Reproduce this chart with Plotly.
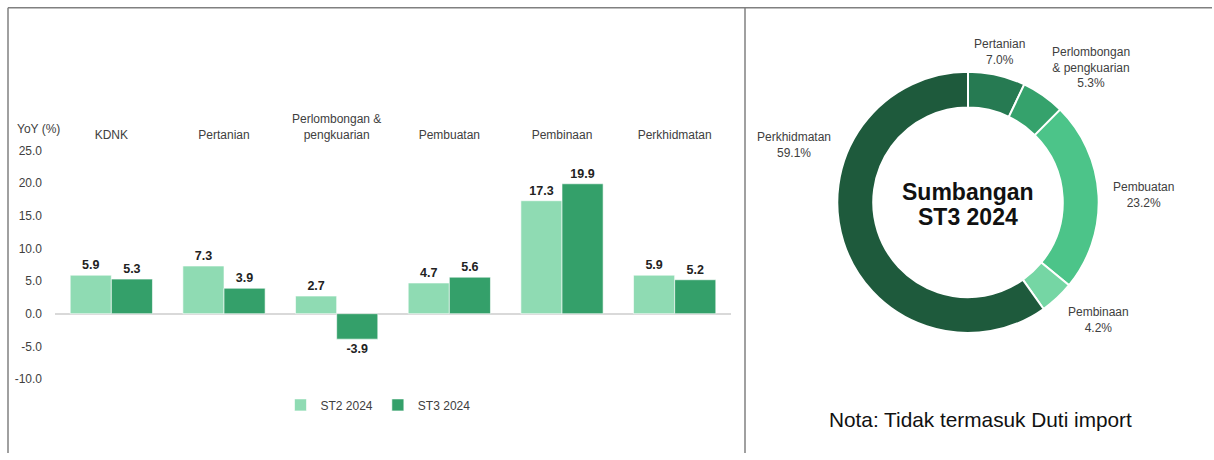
import math
import plotly.graph_objects as go

# ---------------- data ----------------
categories = ["KDNK", "Pertanian", "Perlombongan &<br>pengkuarian", "Pembuatan", "Pembinaan", "Perkhidmatan"]
st2_2024 = [5.9, 7.3, 2.7, 4.7, 17.3, 5.9]
st3_2024 = [5.3, 3.9, -3.9, 5.6, 19.9, 5.2]
series_names = ["ST2 2024", "ST3 2024"]

pie_labels = ["Pertanian", "Perlombongan & pengkuarian", "Pembuatan", "Pembinaan", "Perkhidmatan"]
pie_label_text = ["Pertanian", "Perlombongan<br>& pengkuarian", "Pembuatan", "Pembinaan", "Perkhidmatan"]
pie_values = [7.0, 5.3, 23.2, 4.2, 59.1]

y_ticks = [-10, -5, 0, 5, 10, 15, 20, 25]

# ---------------- styles / geometry helpers ----------------
FONT = "Liberation Sans, Arial, sans-serif"
C_ST2 = "#8fdbb3"
C_ST3 = "#34a06a"
PIE_COLORS = ["#267a52", "#35a26c", "#4cc489", "#75d6a4", "#1e5a3c"]
# label placement style: the large slice's label sits in its upper-left part (degrees clockwise from 12 o'clock)
LABEL_ANGLE_OVERRIDE = {"Perkhidmatan": 289}
W, H = 1214, 460
# effective drawing area as rendered (height / top offset), used to convert pixel targets to paper fractions
HE, OFF = 447.0, 6.2


def PX(x):
    return x / W


def PY(y):
    return 1 - (y - OFF) / HE


fig = go.Figure()

for name, vals, col in [(series_names[0], st2_2024, C_ST2), (series_names[1], st3_2024, C_ST3)]:
    fig.add_trace(go.Bar(
        x=categories, y=vals, name=name,
        marker=dict(color=col, line=dict(color="rgba(255,255,255,0.6)", width=1)),
        text=[f"{v:.1f}" for v in vals], textposition="outside",
        textfont=dict(family=FONT, size=12.5, color="#222222"),
        texttemplate="<b>%{text}</b>",
        cliponaxis=False,
        xaxis="x", yaxis="y",
    ))

# donut geometry (pixels)
cx, cy, r = 968, 202, 131
fig.add_trace(go.Pie(
    labels=pie_labels, values=pie_values,
    textinfo="none",
    hole=0.725, sort=False, direction="clockwise", rotation=0,
    marker=dict(colors=PIE_COLORS, line=dict(color="white", width=2)),
    domain=dict(x=[PX(cx - r), PX(cx + r)], y=[PY(cy + r), PY(cy - r)]),
    showlegend=False,
))

# outside labels for donut, positioned from each slice's mid-angle
annotations = []
total = sum(pie_values)
cum = 0.0
label_r = r + 12
for lab, t, v in zip(pie_labels, pie_label_text, pie_values):
    mid = (cum + v / 2) / total * 2 * math.pi
    cum += v
    if lab in LABEL_ANGLE_OVERRIDE:
        mid = math.radians(LABEL_ANGLE_OVERRIDE[lab])
    s, c = math.sin(mid), math.cos(mid)
    px_ = cx + label_r * s
    py_ = cy - label_r * c
    xa = "left" if s > 0.3 else ("right" if s < -0.3 else "center")
    ya = "bottom" if c > 0.25 else ("top" if c < -0.25 else "middle")
    if ya == "bottom":
        py_ += 6
    elif ya == "top":
        py_ -= 4
    annotations.append(dict(
        text=f"{t}<br>{v:.1f}%", x=PX(px_), y=PY(py_), xref="paper", yref="paper",
        xanchor=xa, yanchor=ya, showarrow=False, align="center",
        font=dict(family=FONT, size=12, color="#404040"),
    ))

annotations += [
    dict(text="YoY (%)", x=PX(15), y=PY(128), xref="paper", yref="paper",
         xanchor="left", yanchor="middle", showarrow=False, font=dict(size=12, color="#404040")),
    dict(text="<b>Sumbangan</b>", x=PX(cx), y=PY(192), xref="paper", yref="paper",
         xanchor="center", yanchor="middle", showarrow=False, font=dict(size=23, color="#111111")),
    dict(text="<b>ST3 2024</b>", x=PX(cx), y=PY(217), xref="paper", yref="paper",
         xanchor="center", yanchor="middle", showarrow=False, font=dict(size=23, color="#111111")),
    dict(text="Nota: Tidak termasuk Duti import", x=PX(981), y=PY(420), xref="paper", yref="paper",
         xanchor="center", yanchor="middle", showarrow=False, font=dict(size=20.8, color="#111111")),
]

fig.update_layout(
    width=W, height=H,
    margin=dict(l=0, r=0, t=0, b=0),
    paper_bgcolor="white", plot_bgcolor="white",
    font=dict(family=FONT, size=12, color="#404040"),
    barmode="group", bargap=0.27, bargroupgap=0,
    xaxis=dict(domain=[PX(55), PX(731)], side="top", showgrid=False, showline=False,
               ticks="", ticklabelstandoff=8, tickfont=dict(size=12, color="#404040"), fixedrange=True),
    yaxis=dict(domain=[PY(379), PY(150)], range=[-10, 25],
               tickvals=y_ticks, ticktext=[f"{v:.1f}" for v in y_ticks],
               showgrid=False, zeroline=True, zerolinecolor="#d9d9d9", zerolinewidth=1.5,
               showline=False, ticks="", ticklabelstandoff=12,
               tickfont=dict(size=12, color="#404040")),
    legend=dict(orientation="h", x=PX(378), y=PY(405), xanchor="center", yanchor="middle",
                font=dict(size=12, color="#404040"), itemwidth=30, traceorder="normal"),
    annotations=annotations,
    shapes=[
        dict(type="line", xref="paper", yref="paper", x0=PX(8), x1=PX(1212), y0=PY(7), y1=PY(7),
             line=dict(color="#808080", width=1.5)),
        dict(type="line", xref="paper", yref="paper", x0=PX(8), x1=PX(8), y0=0, y1=PY(7),
             line=dict(color="#808080", width=1.5)),
        dict(type="line", xref="paper", yref="paper", x0=PX(745), x1=PX(745), y0=0, y1=PY(7),
             line=dict(color="#808080", width=1.5)),
    ],
)

post = (
    "document.documentElement.style.margin='0px';"
    "document.documentElement.style.overflow='hidden';"
    "document.body.style.margin='0px';"
    "document.body.style.overflow='hidden';"
)

fig.write_html("out.html", config={"displayModeBar": False}, post_script=post)
